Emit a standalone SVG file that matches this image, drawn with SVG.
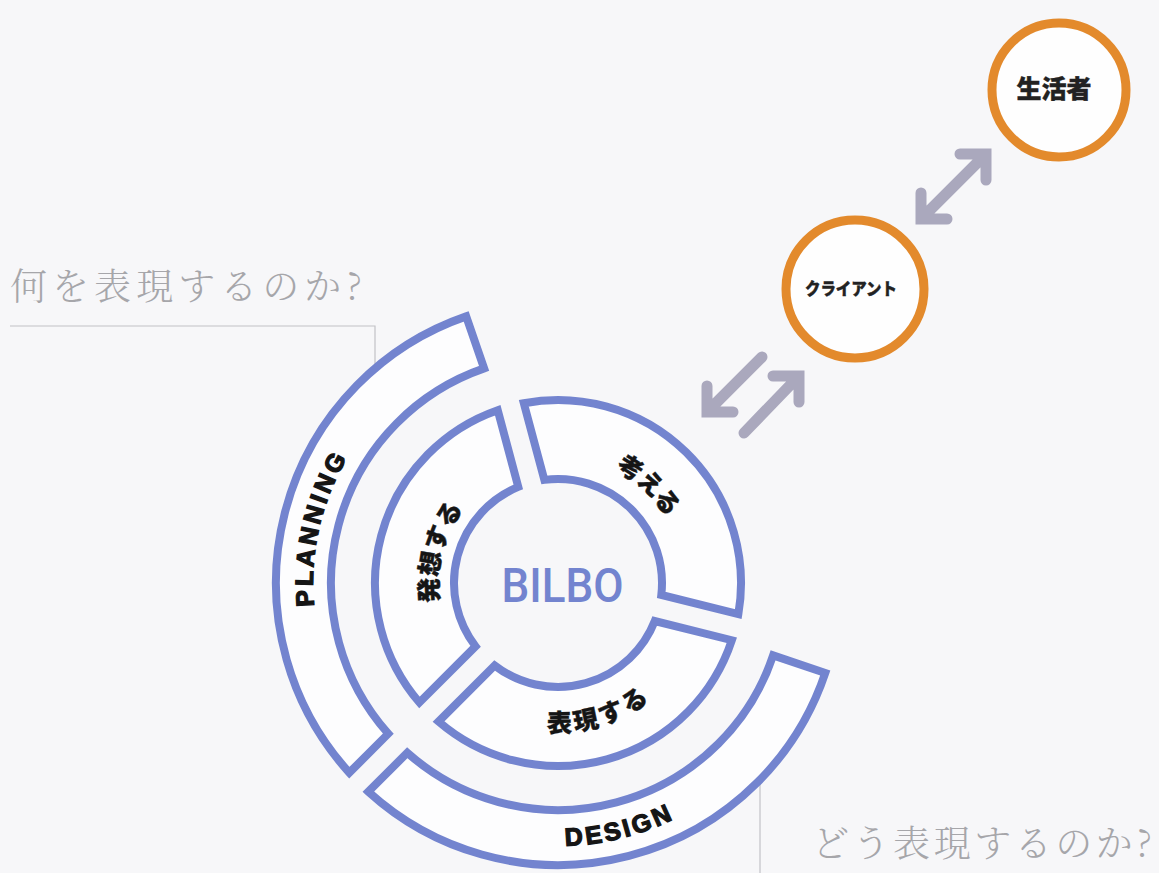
<svg xmlns="http://www.w3.org/2000/svg" width="1159" height="873" viewBox="0 0 1159 873">
<defs>
<style>
.seg{fill:#fdfdfe;stroke:#7384cf;stroke-width:8;stroke-linejoin:miter}
.orb{fill:#fefefe;stroke:#e38a2c;stroke-width:9}
.arw{fill:none;stroke:#aaa8bd;stroke-width:11;stroke-linecap:round;stroke-linejoin:miter}
.lead{fill:none;stroke:#c2c2c6;stroke-width:1.2}
.jp{font-family:"Noto Sans CJK JP",sans-serif;font-weight:900;font-size:25px;fill:#151515;stroke:#151515;stroke-width:0.4}
.en{font-family:"Liberation Sans",Arial,sans-serif;font-weight:bold;font-size:25px;fill:#151515;stroke:#151515;stroke-width:1.3}
.q{font-family:"Noto Serif CJK JP","Liberation Serif","Noto Sans CJK JP",serif;font-weight:300;font-size:37px;fill:#a6a6aa}
.lbl{font-family:"Noto Sans CJK JP",sans-serif;font-weight:900;fill:#222;stroke:#222;stroke-width:0.4}
</style>
<path id="tp-kangaeru" d="M542.38,445.89 A138,138 0 0 1 695.87,589.02"/>
<path id="tp-hyogen" d="M493.21,704.85 A138,138 0 0 0 679.85,647.79"/>
<path id="tp-hasso" d="M444.55,648.50 A131,131 0 0 1 492.50,469.55"/>
<path id="tp-planning" d="M355.15,735.86 A254,254 0 0 1 442.69,356.68"/>
<path id="tp-design" d="M408.70,788.49 A254,254 0 0 0 786.29,694.35"/>
</defs>
<rect width="1159" height="873" fill="#f7f7f9"/>

<g id="leaders">
<path class="lead" d="M10,326 H375 V396"/>
<path class="lead" d="M760,756 V873"/>
</g>
<text class="q" x="10" y="300" textLength="352" lengthAdjust="spacing">何を表現するのか?</text>
<text class="q" x="812" y="857" textLength="340" lengthAdjust="spacing">どう表現するのか?</text>

<g id="planning">
<path class="seg" d="M349.34,772.69 A282,282 0 0 1 466.19,316.36 L484.10,368.37 A227,227 0 0 0 388.25,733.71 Z"/>
<text class="en" dominant-baseline="central" letter-spacing="4"><textPath href="#tp-planning" startOffset="50%" text-anchor="middle">PLANNING</textPath></text>
</g>
<g id="design">
<path class="seg" d="M825.27,672.95 A282,282 0 0 1 368.35,791.71 L407.29,752.75 A227,227 0 0 0 773.14,655.40 Z"/>
<text class="en" dominant-baseline="central" letter-spacing="2.5"><textPath href="#tp-design" startOffset="50%" text-anchor="middle">DESIGN</textPath></text>
</g>
<g id="kangaeru">
<path class="seg" d="M523.80,403.22 A183,183 0 0 1 738.35,614.06 L661.32,594.85 A104,104 0 0 0 544.35,479.90 Z"/>
<text class="jp" dominant-baseline="central" letter-spacing="1"><textPath href="#tp-kangaeru" startOffset="50%" text-anchor="middle">考える</textPath></text>
</g>
<g id="hyogen">
<path class="seg" d="M731.82,640.24 A183,183 0 0 1 438.50,721.59 L494.63,665.46 A104,104 0 0 0 654.79,621.05 Z"/>
<text class="jp" dominant-baseline="central" letter-spacing="1"><textPath href="#tp-hyogen" startOffset="50%" text-anchor="middle">表現する</textPath></text>
</g>
<g id="hasso">
<path class="seg" d="M419.41,702.50 A183,183 0 0 1 497.73,410.21 L518.27,486.89 A104,104 0 0 0 475.54,646.37 Z"/>
<text class="jp" dominant-baseline="central" letter-spacing="2"><textPath href="#tp-hasso" startOffset="50%" text-anchor="middle">発想する</textPath></text>
</g>
<g id="bilbo">
<text x="562.5" y="601.7" text-anchor="middle" textLength="122" lengthAdjust="spacingAndGlyphs" style="font-family:Roboto,'Liberation Sans',sans-serif;font-weight:500;font-size:48px;fill:#7384cf">BILBO</text>
</g>

<g id="client">
<circle class="orb" cx="855" cy="289" r="69"/>
<text class="lbl" x="851" y="295" text-anchor="middle" font-size="17" textLength="92" lengthAdjust="spacingAndGlyphs">クライアント</text>
</g>
<g id="seikatsusha">
<circle class="orb" cx="1059" cy="90" r="67"/>
<text class="lbl" x="1054" y="98" text-anchor="middle" font-size="25" textLength="75" lengthAdjust="spacingAndGlyphs">生活者</text>
</g>

<g id="connectors">
<path class="arw" d="M762,357 L707,412 M707,386 L707,412 L733,412"/>
<path class="arw" d="M744,433 L799,376 M773,376 L799,376 L799,402"/>
<path class="arw" d="M921,219 L986,154 M960,154 L986,154 L986,180 M921,193 L921,219 L947,219"/>
</g>
</svg>
